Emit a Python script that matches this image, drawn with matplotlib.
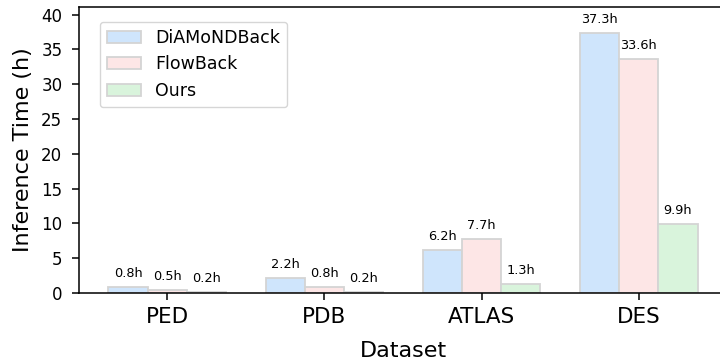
import numpy as np
import matplotlib.pyplot as plt

# Dados
datasets = ['PED', 'PDB', 'ATLAS', 'DES']
methods = ['DiAMoNDBack', 'FlowBack', 'Ours']
diamondback = [0.8, 2.2, 6.2, 37.3]
flowback = [0.5, 0.8, 7.7, 33.6]
ours = [0.2, 0.2, 1.3, 9.9]
colors = ['#cfe5fc', '#fde6e6', '#d9f4dc']

series = [diamondback, flowback, ours]
x = np.arange(len(datasets))
width = 0.25

fig = plt.figure(figsize=(7.2, 3.6), dpi=100)
ax = fig.add_axes([79 / 720, 67 / 360, 648 / 720, 286 / 360])

for i, (name, vals, c) in enumerate(zip(methods, series, colors)):
    pos = x + (i - 1) * width
    ax.bar(pos, vals, width, label=name, color=c, edgecolor='#d4d4d4', linewidth=1.3)
    for p, v in zip(pos, vals):
        ax.text(p, v + 1, f'{v}h', ha='center', va='bottom', fontsize=9.3)

ax.set_xticks(x)
ax.set_xticklabels(datasets, fontsize=15.5)
ax.set_yticks(range(0, 41, 5))
ax.tick_params(length=5, width=1.1)
ax.tick_params(axis='x', pad=5)
ax.tick_params(axis='y', labelsize=12, pad=7)
for s in ax.spines.values():
    s.set_linewidth(1.1)
ax.set_ylim(0, 41.1)
ax.set_xlim(-0.5625, 3.5625)
ax.set_xlabel('Dataset', fontsize=16, labelpad=10)
ax.set_ylabel('Inference Time (h)', fontsize=16, labelpad=6)
ax.legend(loc='upper left', fontsize=12.5, bbox_to_anchor=(0.032, 0.948), borderaxespad=0)

plt.savefig('out.png', dpi=100)
